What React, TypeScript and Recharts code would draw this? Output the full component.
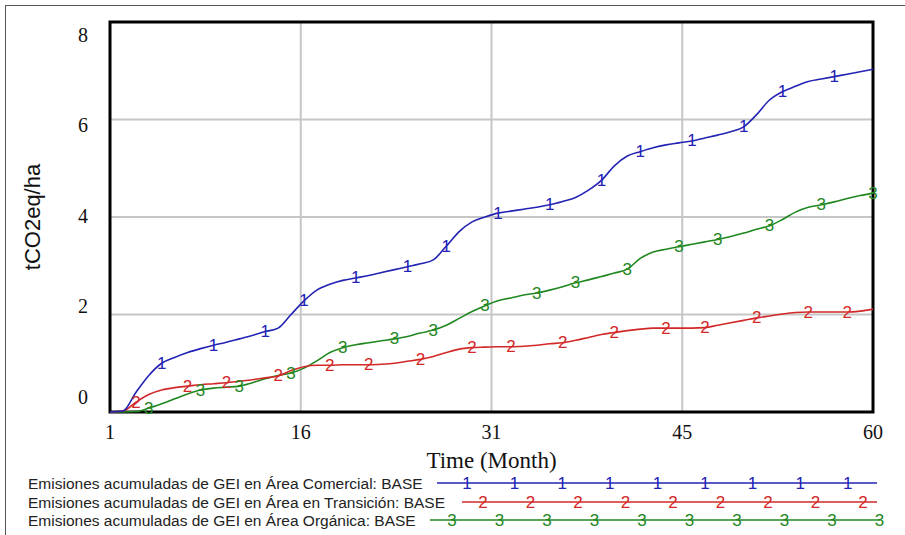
import { LineChart, Line, XAxis, YAxis, CartesianGrid, ReferenceArea, Legend } from 'recharts';

// months 1..60
const months = Array.from({ length: 60 }, (_, i) => i + 1);

const comercial = [
  0, 0.02, 0.4, 0.75, 1.0, 1.12, 1.22, 1.3, 1.37, 1.43,
  1.5, 1.57, 1.65, 1.72, 2.0, 2.28, 2.5, 2.62, 2.7, 2.75,
  2.8, 2.86, 2.92, 2.98, 3.04, 3.12, 3.4, 3.7, 3.9, 4.0,
  4.08, 4.12, 4.16, 4.2, 4.25, 4.32, 4.4, 4.55, 4.75, 5.05,
  5.25, 5.34, 5.42, 5.48, 5.52, 5.56, 5.62, 5.68, 5.75, 5.85,
  6.1, 6.4, 6.57, 6.68, 6.78, 6.83, 6.88, 6.93, 6.98, 7.03,
];

const transicion = [
  0, 0.02, 0.2, 0.36, 0.45, 0.5, 0.53, 0.56, 0.58, 0.6,
  0.63, 0.66, 0.7, 0.74, 0.85, 0.93, 0.96, 0.96, 0.97, 0.97,
  0.97, 0.98, 1.0, 1.04, 1.08, 1.14, 1.22, 1.29, 1.32, 1.33,
  1.34, 1.34, 1.35, 1.37, 1.4, 1.42, 1.47, 1.53, 1.59, 1.63,
  1.67, 1.7, 1.72, 1.72, 1.72, 1.72, 1.73, 1.78, 1.83, 1.88,
  1.93, 1.97, 2.01, 2.04, 2.05, 2.05, 2.05, 2.05, 2.07, 2.11,
];

const organica = [
  0, 0, 0.01, 0.08, 0.17, 0.27, 0.37, 0.45, 0.49, 0.51,
  0.53, 0.6, 0.68, 0.75, 0.8, 0.9, 1.05, 1.22, 1.32, 1.38,
  1.42, 1.46, 1.5, 1.55, 1.62, 1.68, 1.78, 1.92, 2.06, 2.18,
  2.28, 2.34, 2.4, 2.44, 2.5, 2.57, 2.65, 2.71, 2.78, 2.85,
  2.93, 3.15, 3.28, 3.34, 3.39, 3.44, 3.49, 3.54, 3.6, 3.67,
  3.75, 3.82, 3.95, 4.1, 4.2, 4.25, 4.31, 4.38, 4.44, 4.49,
];

// months where the series number is drawn on the line
const comercialMarks = [5, 9, 13, 16, 20, 24, 27, 31, 35, 39, 42, 46, 50, 53, 57];
const transicionMarks = [3, 7, 10, 14, 18, 21, 25, 29, 32, 36, 40, 44, 47, 51, 55, 58];
const organicaMarks = [4, 8, 11, 15, 19, 23, 26, 30, 34, 37, 41, 45, 48, 52, 56, 60];

const xTicks = [1, 15.75, 30.5, 45.25, 60];
const yTicks = [0, 2, 4, 6, 8];

const seriesNames = [
  'Emisiones acumuladas de GEI en Área Comercial: BASE',
  'Emisiones acumuladas de GEI en Área en Transición: BASE',
  'Emisiones acumuladas de GEI en Área Orgánica: BASE',
];

const data = months.map((month, i) => ({
  month,
  comercial: comercial[i],
  transicion: transicion[i],
  organica: organica[i],
}));

const BLUE = '#2323b4';
const RED = '#d22828';
const GREEN = '#1f871f';

const SERIF = '"Liberation Serif", "Times New Roman", serif';
const SANS = '"Liberation Sans", Arial, sans-serif';
const GLYPH_SIZE = 17;

const YTick = ({ x, y, payload }: any) => (
  <text
    x={x}
    y={y + 13 - (8 - payload.value) * 3.55}
    textAnchor="end"
    dominantBaseline="central"
    fontFamily={SERIF}
    fontSize={20}
    fill="#111"
  >
    {payload.value}
  </text>
);

const XTick = ({ x, y, payload }: any) => (
  <text x={x} y={y + 20} textAnchor="middle" dominantBaseline="central" fontFamily={SERIF} fontSize={20} fill="#111">
    {Math.round(payload.value)}
  </text>
);

const YTitle = ({ viewBox }: any) => {
  const cx = viewBox.x + 32;
  const cy = viewBox.y + viewBox.height / 2;
  return (
    <text
      x={cx}
      y={cy}
      transform={`rotate(-90, ${cx}, ${cy})`}
      textAnchor="middle"
      dominantBaseline="central"
      fontFamily={SANS}
      fontSize={22}
      fill="#111"
    >
      tCO2eq/ha
    </text>
  );
};

const XTitle = ({ viewBox }: any) => (
  <text
    x={viewBox.x + viewBox.width / 2}
    y={viewBox.y + 48}
    textAnchor="middle"
    dominantBaseline="central"
    fontFamily={SERIF}
    fontSize={23}
    fill="#111"
  >
    Time (Month)
  </text>
);

const markDot = (marks: number[], glyph: string, color: string) => (props: any) => {
  const { cx, cy, payload, index } = props;
  if (!marks.includes(payload.month)) return <g key={`d-${glyph}-${index}`} />;
  return (
    <text
      key={`d-${glyph}-${index}`}
      x={cx}
      y={cy}
      textAnchor="middle"
      dominantBaseline="central"
      fontFamily={SANS}
      fontSize={GLYPH_SIZE}
      fill={color}
    >
      {glyph}
    </text>
  );
};

const legendRows: Record<string, { glyph: string; start: number; end: number; first: number; step: number; count: number; y: number }> = {
  comercial: { glyph: '1', start: 437, end: 877, first: 467, step: 47.6, count: 9, y: 11 },
  transicion: { glyph: '2', start: 462, end: 877, first: 483, step: 47.5, count: 9, y: 30 },
  organica: { glyph: '3', start: 430, end: 880, first: 452, step: 47.5, count: 10, y: 48 },
};

const VensimLegend = ({ payload }: any) => (
  <svg width={905} height={63} style={{ display: 'block' }}>
    {(payload || []).map((entry: any) => {
      const row = legendRows[entry.dataKey];
      if (!row) return null;
      return (
        <g key={entry.dataKey}>
          <text x={28} y={row.y} dominantBaseline="central" fontFamily={SANS} fontSize={15.5} fill="#222">
            {entry.value}
          </text>
          <line x1={row.start} x2={row.end} y1={row.y} y2={row.y} stroke={entry.color} strokeWidth={1.5} />
          {Array.from({ length: row.count }, (_, k) => (
            <text
              key={k}
              x={row.first + k * row.step}
              y={row.y}
              textAnchor="middle"
              dominantBaseline="central"
              fontFamily={SANS}
              fontSize={GLYPH_SIZE}
              fill={entry.color}
            >
              {row.glyph}
            </text>
          ))}
        </g>
      );
    })}
  </svg>
);

export default function App() {
  return (
    <div style={{ position: 'absolute', left: 0, top: 0, width: 905, height: 535, background: '#fff', overflow: 'hidden' }}>
      <div
        style={{
          position: 'absolute',
          left: 5,
          top: 5,
          width: 900,
          height: 530,
          borderTop: '1.5px solid #555',
          borderLeft: '1.5px solid #555',
        }}
      />
      <LineChart width={905} height={535} data={data} margin={{ top: 22, right: 32, bottom: 0, left: 0 }}>
        <CartesianGrid stroke="#c6c6c6" strokeWidth={2} />
        <XAxis
          dataKey="month"
          type="number"
          domain={[1, 60]}
          ticks={xTicks}
          height={123}
          tickSize={0}
          tickMargin={0}
          axisLine={false}
          tickLine={false}
          tick={<XTick />}
          label={<XTitle />}
        />
        <YAxis
          domain={[0, 8]}
          ticks={yTicks}
          width={110}
          tickSize={0}
          tickMargin={22}
          axisLine={false}
          tickLine={false}
          tick={<YTick />}
          label={<YTitle />}
        />
        <Line
          type="monotone"
          dataKey="organica"
          name={seriesNames[2]}
          stroke={GREEN}
          strokeWidth={1.6}
          dot={markDot(organicaMarks, '3', GREEN)}
          activeDot={false}
          isAnimationActive={false}
        />
        <Line
          type="monotone"
          dataKey="transicion"
          name={seriesNames[1]}
          stroke={RED}
          strokeWidth={1.6}
          dot={markDot(transicionMarks, '2', RED)}
          activeDot={false}
          isAnimationActive={false}
        />
        <Line
          type="monotone"
          dataKey="comercial"
          name={seriesNames[0]}
          stroke={BLUE}
          strokeWidth={1.6}
          dot={markDot(comercialMarks, '1', BLUE)}
          activeDot={false}
          isAnimationActive={false}
        />
        <ReferenceArea x1={1} x2={60} y1={0} y2={8} fill="none" stroke="#000" strokeWidth={3} ifOverflow="visible" />
        <Legend
          layout="vertical"
          align="center"
          verticalAlign="middle"
          wrapperStyle={{ left: 0, top: 472, width: 905 }}
          content={<VensimLegend />}
        />
      </LineChart>
    </div>
  );
}
